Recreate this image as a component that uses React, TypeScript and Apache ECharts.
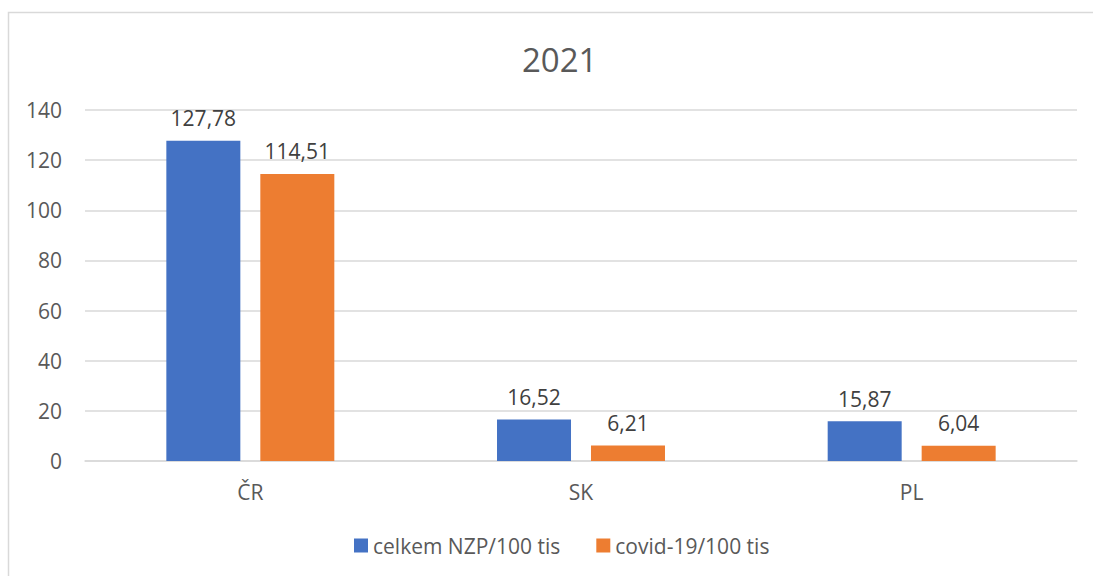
import React, { useEffect, useRef } from "react";
import * as echarts from "echarts";

const title = "2021";
const categories = ["ČR", "SK", "PL"];
const seriesNames = ["celkem NZP/100 tis", "covid-19/100 tis"];
const totalValues = [127.78, 16.52, 15.87];
const covidValues = [114.51, 6.21, 6.04];
const yTicks = { min: 0, max: 140, interval: 20 };

const FONT = "'Open Sans', 'Noto Sans', sans-serif";

export default function App() {
  const ref = useRef<HTMLDivElement>(null);
  useEffect(() => {
    if (!ref.current) return;
    const chart = echarts.init(ref.current, null, { renderer: "svg" });
    const fmt = (p: any) => Number(p.value).toFixed(2).replace(".", ",");
    chart.setOption({
      animation: false,
      backgroundColor: "#ffffff",
      textStyle: { fontFamily: FONT },
      graphic: [
        {
          type: "rect",
          shape: { x: 8.5, y: 12.5, width: 1100, height: 600 },
          style: { fill: "none", stroke: "#d9d9d9", lineWidth: 1.5 },
          silent: true,
        },
      ],
      title: {
        text: title,
        left: 517,
        top: 38,
        textStyle: { fontFamily: FONT, fontSize: 33, fontWeight: "normal", color: "#595959" },
      },
      legend: {
        bottom: 15,
        left: 349,
        itemWidth: 14,
        itemHeight: 14,
        itemGap: 36,
        icon: "rect",
        textStyle: { fontFamily: FONT, fontSize: 21, color: "#595959" },
        data: seriesNames,
      },
      grid: { left: 85, right: 16, top: 110, bottom: 115, containLabel: false },
      xAxis: {
        type: "category",
        data: categories,
        axisLine: { show: true, lineStyle: { color: "#d9d9d9", width: 1.5 } },
        axisTick: { show: false },
        axisLabel: { fontFamily: FONT, fontSize: 21, color: "#595959", margin: 20 },
      },
      yAxis: {
        type: "value",
        min: yTicks.min,
        max: yTicks.max,
        interval: yTicks.interval,
        axisLine: { show: false },
        axisTick: { show: false },
        splitLine: { lineStyle: { color: "#d9d9d9", width: 1.5 } },
        axisLabel: { fontFamily: FONT, fontSize: 21, color: "#595959", margin: 23 },
      },
      series: [
        {
          name: seriesNames[0],
          type: "bar",
          data: totalValues,
          barWidth: 74,
          barGap: "27%",
          itemStyle: { color: "#4472C4" },
          label: {
            show: true,
            position: "top",
            distance: 12,
            formatter: fmt,
            fontFamily: FONT,
            fontSize: 21,
            color: "#404040",
          },
        },
        {
          name: seriesNames[1],
          type: "bar",
          data: covidValues,
          barWidth: 74,
          barGap: "27%",
          itemStyle: { color: "#ED7D31" },
          label: {
            show: true,
            position: "top",
            distance: 12,
            formatter: fmt,
            fontFamily: FONT,
            fontSize: 21,
            color: "#404040",
          },
        },
      ],
    });
    return () => chart.dispose();
  }, []);
  return (
    <div
      ref={ref}
      style={{ position: "fixed", left: 0, top: 0, width: 1093, height: 576 }}
    />
  );
}
